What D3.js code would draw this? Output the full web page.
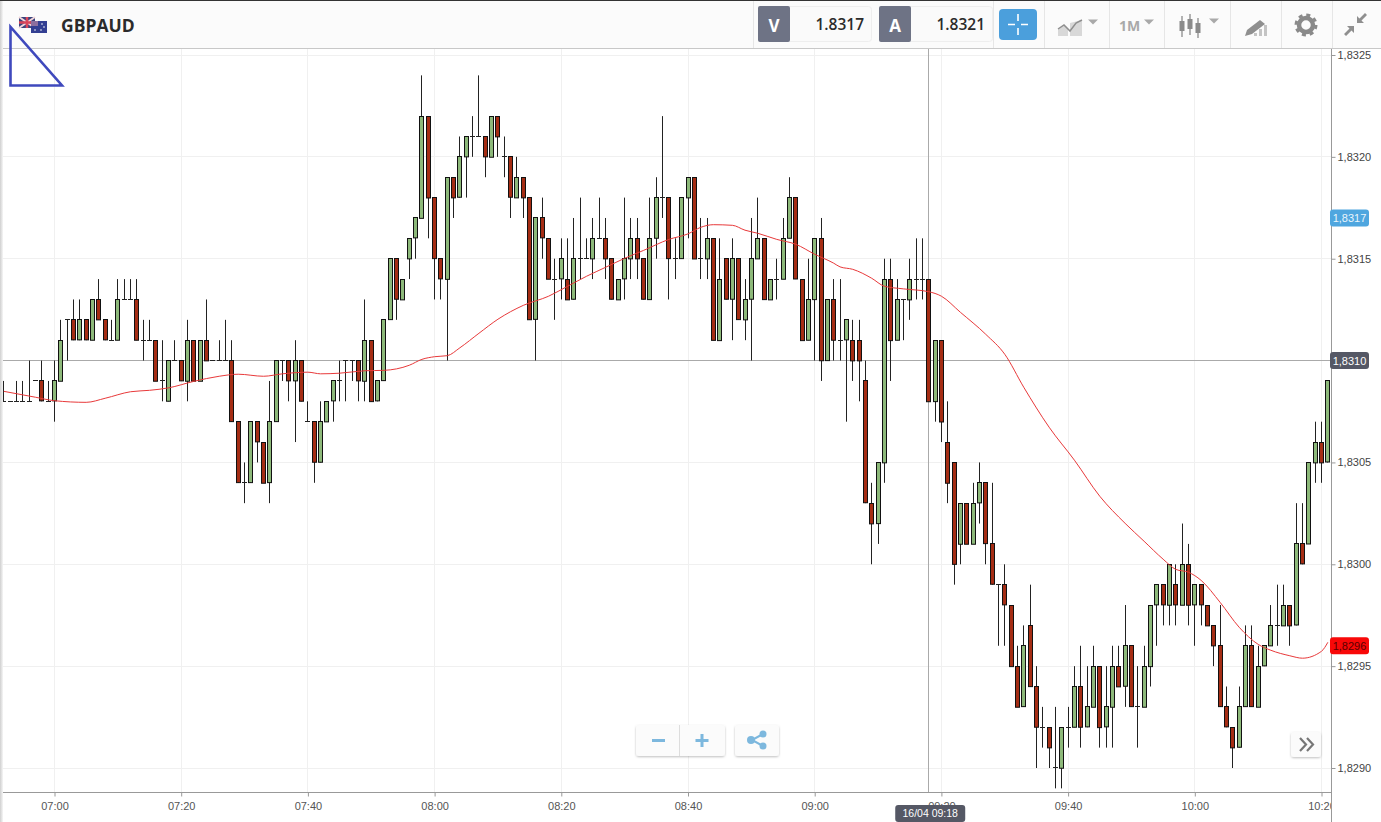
<!DOCTYPE html>
<html>
<head>
<meta charset="utf-8">
<title>GBPAUD</title>
<script src="https://cdnjs.cloudflare.com/ajax/libs/d3/7.8.5/d3.min.js"></script>
<style>
  html, body { margin: 0; padding: 0; background: #fff; overflow: hidden; }
  svg { display: block; }
  text { font-family: "Liberation Sans", Arial, sans-serif; }
  .head { font-family: "Open Sans", sans-serif; }
</style>
</head>
<body>
<svg id="chart"></svg>
<script>
// One candle per minute, starting at 06:52. Prices are pips above 1.8300
const firstCandle = "06:52";
const opens = [
  8,8,8,8,8,9,9,8,8,9, 12,12,11,12,11,13,12,11,11,13,
  13,13,11,11,11,9,8,10,10,9, 11,9,11,10,10,10,10,7,4,4,
  7,6,4,7,10,10,9,10,7,7, 5,7,8,9,10,10,10,9,11,8,
  9,12,15,13,15,16,17,22,18,15, 14,19,18,20,21,21,21,20,22,20,
  20,18,19,18,12,17,16,14,14,14, 13,15,15,15,16,16,15,13,14,15,
  16,15,13,16,18,18,15,15,18,19, 15,15,16,11,15,13,15,12,13,15,
  16,13,14,14,16,18,14,11,13,16, 10,13,11,11,11,11,9,3,2,5,
  14,11,13,13,14,14,14,8,11,6, 5,1,3,1,3,4,1,-1,-1,-2,
  -5,-7,-3,-6,-8,-8,-10,-10,-8,-8, -6,-8,-7,-5,-8,-7,-5,-6,-4,-7,
  -7,-5,-2,-1,-2,-1,-2,0,-2,-1, -2,-3,-4,-7,-8,-9,-7,-4,-7,-5,
  -4,-3,-3,-2,-3,1,1,5,6,5
];
const highs = [
  9,8,9,9,10,9,10,9,10,12, 12,13,13,12,13,14,12,12,14,14,
  14,14,12,12,11,11,10,11,10,12, 11,11,13,10,11,12,11,7,5,7,
  7,6,9,10,10,10,11,10,8,7, 8,8,9,10,10,10,10,13,11,9,
  12,15,15,14,16,17,24,22,18,15, 19,19,21,21,22,24,21,22,22,21,
  20,20,19,18,17,18,16,15,16,16, 17,18,16,17,18,17,15,14,18,17,
  17,15,18,19,22,18,16,18,19,19, 17,17,16,16,15,16,15,14,17,18,
  16,14,15,17,19,18,14,15,16,17, 13,14,14,12,12,12,10,4,5,15,
  15,14,13,15,16,16,14,11,11,8, 5,3,3,4,5,4,4,-1,0,-2,
  -4,-3,-1,-5,-7,-8,-7,-8,-7,-5, -4,-5,-4,-5,-5,-4,-4,-2,-4,-5,
  -4,-2,-1,-1,0,0,2,1,-1,-1, -2,-3,-2,-6,-8,-6,-3,-3,-4,-4,
  -2,-1,-1,-2,3,3,5,7,7,9
];
const lows = [
  8,8,8,8,8,9,8,8,7,9, 10,11,11,11,11,12,11,11,11,13,
  13,11,10,11,9,8,8,10,9,8, 9,9,10,10,10,10,7,4,3,4,
  5,4,3,7,9,8,6,8,7,4, 5,7,7,8,8,9,8,8,8,8,
  9,12,12,13,14,15,17,16,13,13, 10,17,18,18,20,21,19,20,20,19,
  17,18,17,12,10,15,14,12,13,13, 13,14,15,14,16,14,13,13,13,14,
  14,13,13,15,17,13,14,15,16,15, 14,14,11,11,13,11,12,11,10,15,
  13,13,13,14,16,14,11,11,10,9, 10,10,10,7,9,8,3,0,1,4,
  9,11,11,12,13,13,8,7,6,3, -1,0,1,1,2,0,-1,-4,-4,-5,
  -7,-7,-6,-10,-9,-10,-11,-11,-9,-8, -9,-8,-7,-9,-9,-9,-6,-7,-7,-9,
  -7,-6,-4,-3,-3,-3,-2,-3,-4,-3, -3,-5,-7,-8,-10,-9,-7,-7,-7,-5,
  -4,-4,-3,-4,-3,0,1,4,4,5
];
const closes = [
  8,8,8,8,8,9,8,8,9,11, 12,11,12,11,13,12,11,11,13,13,
  13,11,11,11,9,9,10,10,9,11, 9,11,10,10,10,10,7,4,4,7,
  6,4,7,10,10,9,10,8,7,5, 7,8,9,9,10,10,9,11,8,9,
  12,15,13,14,16,17,22,18,15,14, 19,18,20,21,21,21,20,22,21,20,
  18,19,18,12,17,16,14,14,15,13, 15,15,15,16,16,15,13,14,15,16,
  15,13,16,18,18,15,15,18,19,15, 15,16,11,14,13,15,12,13,15,16,
  13,14,14,16,18,14,11,13,16,10, 13,11,11,12,10,10,3,2,5,14,
  11,13,13,14,14,14,8,11,7,4, 0,3,1,3,4,1,-1,-1,-2,-5,
  -7,-4,-6,-8,-8,-9,-10,-8,-8,-6, -8,-7,-5,-8,-7,-5,-6,-4,-7,-7,
  -5,-2,-1,-2,0,-2,0,-2,-1,-2, -3,-4,-7,-8,-9,-7,-4,-7,-5,-4,
  -3,-3,-2,-3,1,0,5,6,5,9
];

const maIndex = [
  0,5,8,13,16,20,23,26,30,34, 37,41,44,48,50,53,57,60,64,66,
  68,70,72,75,78,82,86,89,92,95, 98,101,105,108,110,112,115,117,119,122,
  125,128,131,132,134,137,139,142,146,148, 151,155,158,161,165,169,173,177,180,183,
  185,187,189,192,195,198,200,203,205,208,209
];
const maValues = [
  8.49,8.2,8.03,7.95,8.15,8.47,8.54,8.66,8.98,9.23, 9.33,9.23,9.35,9.43,9.35,9.38,9.5,9.52,9.77,10.06,
  10.19,10.24,10.63,11.34,12.03,12.71,13.16,13.65,14.14,14.58, 15.02,15.41,15.95,16.22,16.54,16.67,16.64,16.4,16.25,15.95,
  15.71,15.22,14.78,14.6,14.48,14.04,13.65,13.52,13.38,13.16, 12.37,11.29,10.31,8.69,6.73,5.11,3.34,2.01,1.13,0.25,
  -0.25,-0.39,-0.79,-1.87,-3.09,-3.93,-4.22,-4.49,-4.61,-4.27,-3.83
];

const priceTicks = [1.8290, 1.8295, 1.8300, 1.8305, 1.8310, 1.8315, 1.8320, 1.8325];
const timeTicks = ["07:00","07:20","07:40","08:00","08:20","08:40","09:00","09:20","09:40","10:00","10:20"];

const symbol = "GBPAUD";
const bidText = "1.8317";
const askText = "1.8321";
const bidPrice = 1.8317;
const crossPrice = 1.8310;
const lastPrice = 1.8296;
const crossTime = "09:18";
const crossDate = "16/04";

const width = 1381, height = 822;
const plot = { left: 3, right: 1331, top: 48, bottom: 792 };
const upColor = "#8db97a", downColor = "#a52d14", wickColor = "#222";

const svg = d3.select("#chart").attr("width", width).attr("height", height);

const parseTime = d3.timeParse("%H:%M");
const toPrice = p => 1.83 + p / 10000;
const priceText = p => p.toFixed(4).replace(".", ",");
const timeAt = i => d3.timeMinute.offset(parseTime(firstCandle), i);

// Scales
const x = d3.scaleTime()
  .domain([parseTime("07:00"), parseTime("10:20")])
  .range([54.5, 1321.5]);
const y = d3.scaleLinear()
  .domain([1.8290, 1.8325])
  .range([768, 55]);

svg.append("rect").attr("width", width).attr("height", height).attr("fill", "#fff");

// Grid
const sharp = v => Math.round(v - 0.5) + 0.5;
svg.append("g").selectAll("line").data(timeTicks).enter().append("line")
  .attr("x1", d => sharp(x(parseTime(d)))).attr("x2", d => sharp(x(parseTime(d))))
  .attr("y1", plot.top).attr("y2", plot.bottom)
  .attr("stroke", "#f0f0f0");
svg.append("g").selectAll("line").data(priceTicks).enter().append("line")
  .attr("x1", plot.left).attr("x2", plot.right)
  .attr("y1", d => sharp(y(d))).attr("y2", d => sharp(y(d)))
  .attr("stroke", "#f0f0f0");

// Crosshair sits under the candles
svg.append("line")
  .attr("x1", 0).attr("x2", plot.right)
  .attr("y1", sharp(y(crossPrice))).attr("y2", sharp(y(crossPrice)))
  .attr("stroke", "#aaa");
svg.append("line")
  .attr("x1", sharp(x(parseTime(crossTime)))).attr("x2", sharp(x(parseTime(crossTime))))
  .attr("y1", plot.top).attr("y2", plot.bottom)
  .attr("stroke", "#aaa");

// Candles
const candles = opens.map((o, i) => ({ i: i, o: o, h: highs[i], l: lows[i], c: closes[i] }));
const cx = d => sharp(x(timeAt(d.i)));
const candle = svg.append("g").selectAll("g").data(candles).enter().append("g");

candle.append("line")
  .attr("x1", cx).attr("x2", cx)
  .attr("y1", d => y(toPrice(d.h))).attr("y2", d => y(toPrice(d.l)))
  .attr("stroke", wickColor);

candle.filter(d => d.o === d.c).append("line")
  .attr("x1", d => cx(d) - 2.5).attr("x2", d => cx(d) + 2.5)
  .attr("y1", d => sharp(y(toPrice(d.o)))).attr("y2", d => sharp(y(toPrice(d.o))))
  .attr("stroke", wickColor);

candle.filter(d => d.o !== d.c).append("rect")
  .attr("x", d => cx(d) - 2)
  .attr("y", d => sharp(y(toPrice(Math.max(d.o, d.c)))))
  .attr("width", 4)
  .attr("height", d => Math.abs(y(toPrice(d.o)) - y(toPrice(d.c))))
  .attr("fill", d => d.c > d.o ? upColor : downColor)
  .attr("stroke", "#111");

// Moving average
const maLine = d3.line()
  .x(d => x(timeAt(d[0])))
  .y(d => y(toPrice(d[1])))
  .curve(d3.curveMonotoneX);
svg.append("path")
  .datum(maIndex.map((m, i) => [m, maValues[i]]))
  .attr("d", maLine)
  .attr("fill", "none")
  .attr("stroke", "#e8393a")
  .attr("stroke-width", 1);

// Axes
const xAxis = svg.append("g")
  .attr("transform", `translate(0,${plot.bottom + 0.5})`)
  .call(d3.axisBottom(x).tickValues(timeTicks.map(parseTime)).tickFormat(d3.timeFormat("%H:%M")).tickSize(4).tickPadding(6));
xAxis.select(".domain").attr("d", `M0,0H${plot.right}`).attr("stroke", "#999");
xAxis.selectAll("line").attr("stroke", "#999");
xAxis.selectAll("text").attr("font-size", 11).attr("fill", "#555")
  .attr("font-family", "Liberation Sans");
svg.append("rect").attr("x", plot.right).attr("y", plot.bottom + 1).attr("width", 50).attr("height", 30).attr("fill", "#fff");

// the crosshair tag stands in for the 1,8310 label
const yAxis = svg.append("g")
  .attr("transform", `translate(${plot.right + 0.5},0)`)
  .call(d3.axisRight(y).tickValues(priceTicks).tickFormat(d => d === crossPrice ? "" : priceText(d)).tickSize(4).tickPadding(2));
yAxis.select(".domain").attr("d", `M0,${plot.top}V${height}`).attr("stroke", "#999");
yAxis.selectAll("line").attr("stroke", "#999");
yAxis.selectAll("text").attr("font-size", 11).attr("fill", "#444")
  .attr("font-family", "Liberation Sans");

// Price tags on the right axis
function priceTag(price, fill, color) {
  const tag = svg.append("g").attr("transform", `translate(${plot.right},${y(price)})`);
  tag.append("rect").attr("x", -1).attr("y", -8.5).attr("width", 39).attr("height", 17).attr("rx", 3).attr("fill", fill);
  tag.append("text").attr("x", 18.5).attr("y", 4).attr("text-anchor", "middle")
    .attr("font-size", 11).attr("fill", color).text(priceText(price));
}
priceTag(bidPrice, "#4fa6df", "#eaf5fc");
priceTag(crossPrice, "#555865", "#fff");
priceTag(lastPrice, "#f80808", "#5a0000");

// Time tag under the crosshair
const timeTag = svg.append("g").attr("transform", `translate(${x(parseTime(crossTime))},0)`);
timeTag.append("rect").attr("x", -33.5).attr("y", 805).attr("width", 70).attr("height", 17).attr("rx", 3).attr("fill", "#555865");
timeTag.append("text").attr("x", 1.5).attr("y", 817).attr("text-anchor", "middle")
  .attr("font-size", 10.5).attr("fill", "#fff").text(`${crossDate} ${crossTime}`);

// Header bar
const head = svg.append("g");
head.append("rect").attr("width", width).attr("height", 48).attr("fill", "#fbfbfb");
head.append("rect").attr("width", width).attr("height", 1).attr("fill", "#333");
head.append("line").attr("x1", 0).attr("x2", width).attr("y1", 48.5).attr("y2", 48.5).attr("stroke", "#c8c8c8");
[753, 993, 1044, 1109, 1164, 1230, 1281, 1332].forEach(v => {
  head.append("line").attr("x1", v + 0.5).attr("x2", v + 0.5).attr("y1", 1).attr("y2", 48).attr("stroke", "#e6e6e6");
});

// Left edge shadow
const edge = svg.append("defs").append("linearGradient").attr("id", "edge");
edge.append("stop").attr("offset", 0).attr("stop-color", "#cfcfcf");
edge.append("stop").attr("offset", 1).attr("stop-color", "#f6f6f6");
svg.append("rect").attr("y", 1).attr("width", 3).attr("height", height).attr("fill", "url(#edge)");

// Flags
const gb = head.append("g").attr("transform", "translate(19,17)");
gb.append("rect").attr("width", 16).attr("height", 11).attr("fill", "#39447e");
gb.append("path").attr("d", "M0,0L16,11M16,0L0,11").attr("stroke", "#f2d6da").attr("stroke-width", 2);
gb.append("path").attr("d", "M8,0V11M0,5.5H16").attr("stroke", "#d8455a").attr("stroke-width", 2.5);
const au = head.append("g").attr("transform", "translate(31,21)");
au.append("rect").attr("width", 16).attr("height", 12).attr("fill", "#333f92");
au.append("path").attr("d", "M0,0H7V5H0Z").attr("fill", "#8c6f9e");
[[11, 3], [13, 6], [10, 9], [4, 9]].forEach(p => {
  au.append("circle").attr("cx", p[0]).attr("cy", p[1]).attr("r", 0.8).attr("fill", "#fff");
});

head.append("text").attr("class", "head").attr("x", 61).attr("y", 32)
  .attr("font-size", 17.5).attr("font-weight", 700).attr("fill", "#2b2b2b").text(symbol);

// Bid and ask boxes
function quote(left, letter, value) {
  head.append("rect").attr("x", left + 0.5).attr("y", 6.5).attr("width", 113).attr("height", 35).attr("rx", 3)
    .attr("fill", "#fafafa").attr("stroke", "#eee");
  head.append("rect").attr("x", left).attr("y", 6).attr("width", 32).attr("height", 36).attr("rx", 2).attr("fill", "#6e7385");
  head.append("text").attr("class", "head").attr("x", left + 16).attr("y", 32).attr("text-anchor", "middle")
    .attr("font-size", 17).attr("font-weight", 700).attr("fill", "#fff").text(letter);
  head.append("text").attr("class", "head").attr("x", left + 106).attr("y", 30).attr("text-anchor", "end")
    .attr("font-size", 15.5).attr("font-weight", 600).attr("fill", "#2b2b2b").text(value);
}
quote(758, "V", bidText);
quote(879, "A", askText);

// Crosshair button
head.append("rect").attr("x", 999).attr("y", 9).attr("width", 38).attr("height", 31).attr("rx", 4).attr("fill", "#4b9fdc");
head.append("path").attr("d", "M1008,24.5H1015M1021,24.5H1028M1018,14V21M1018,28V35")
  .attr("stroke", "#fff").attr("stroke-width", 1.6);

// Toolbar icons
const iconGrey = "#a9a9a9";
const caret = (cx0, cy0) => head.append("path")
  .attr("d", `M${cx0 - 5},${cy0 - 2.5}H${cx0 + 5}L${cx0},${cy0 + 2.5}Z`).attr("fill", iconGrey);
head.append("path").attr("d", "M1058,36V29L1064,25L1068,29V36ZM1070,36V23L1082,20V36Z").attr("fill", "#d8d8d8");
head.append("path").attr("d", "M1058,29L1064,25L1070,31L1076,23L1082,20").attr("fill", "none").attr("stroke", "#8f8f8f").attr("stroke-width", 1.5);
caret(1093, 22);
head.append("text").attr("class", "head").attr("x", 1119).attr("y", 31).attr("font-size", 14).attr("font-weight", 700).attr("fill", iconGrey).text("1M");
caret(1149, 22);
[[1182, 21, 31, 16, 37], [1190, 19, 29, 14, 35], [1198, 23, 33, 18, 38]].forEach(c => {
  head.append("line").attr("x1", c[0]).attr("x2", c[0]).attr("y1", c[3]).attr("y2", c[4]).attr("stroke", "#8a8a8a").attr("stroke-width", 1.3);
  head.append("rect").attr("x", c[0] - 2.5).attr("y", c[1]).attr("width", 5).attr("height", c[2] - c[1]).attr("fill", "#8a8a8a");
});
caret(1214, 21);
head.append("path").attr("d", "M1254,36V33H1257V36ZM1259,36V29H1262V36ZM1264,36V25H1267V36Z").attr("fill", "#c4c4c4");
head.append("path").attr("d", "M1245,36L1247,30L1260,20L1265,24L1252,34Z").attr("fill", "#8f8f8f");
head.append("circle").attr("cx", 1306).attr("cy", 25).attr("r", 7).attr("fill", "none").attr("stroke", "#8a8a8a").attr("stroke-width", 4.5);
head.append("circle").attr("cx", 1306).attr("cy", 25).attr("r", 10).attr("fill", "none").attr("stroke", "#8a8a8a").attr("stroke-width", 3).attr("stroke-dasharray", "4 3.85");
head.append("path").attr("d", "M1357,23V16L1359.5,18.5L1365,13L1367,15L1361.5,20.5L1364,23Z").attr("fill", "#8f8f8f");
head.append("path").attr("d", "M1354,26V33L1351.5,30.5L1346,36L1344,34L1349.5,28.5L1347,26Z").attr("fill", "#8f8f8f");

// Hand drawn triangle
svg.append("path").attr("d", "M10.5,27V85.5H62L10.5,27Z")
  .attr("fill", "none").attr("stroke", "#3f49bd").attr("stroke-width", 2.6);

// Zoom and share buttons
const btnShadow = svg.append("defs").append("filter").attr("id", "btn").attr("x", "-10%").attr("y", "-10%").attr("width", "120%").attr("height", "130%");
btnShadow.append("feDropShadow").attr("dx", 0).attr("dy", 1).attr("stdDeviation", 1).attr("flood-color", "#000").attr("flood-opacity", 0.25);
function button(left, top, w, h) {
  svg.append("rect").attr("x", left).attr("y", top).attr("width", w).attr("height", h).attr("rx", 3)
    .attr("fill", "#fbfbfb").attr("filter", "url(#btn)");
}
const btnBlue = "#7db8de";
button(636, 725, 89, 31);
svg.append("line").attr("x1", 679.5).attr("x2", 679.5).attr("y1", 725).attr("y2", 756).attr("stroke", "#ddd");
svg.append("path").attr("d", "M652,740.5H665M702,734V747M695.5,740.5H708.5").attr("stroke", btnBlue).attr("stroke-width", 3);
button(735, 725, 44, 31);
svg.append("path").attr("d", "M763,734L752,740L763,746").attr("fill", "none").attr("stroke", btnBlue).attr("stroke-width", 2);
[[763, 734, 3.5], [751, 740, 4], [763, 746, 3.5]].forEach(c => {
  svg.append("circle").attr("cx", c[0]).attr("cy", c[1]).attr("r", c[2]).attr("fill", btnBlue);
});
button(1291, 732, 30, 25);
svg.append("path").attr("d", "M1300,738L1306,744.5L1300,751M1307,738L1313,744.5L1307,751")
  .attr("fill", "none").attr("stroke", "#777").attr("stroke-width", 2.2);
</script>
</body>
</html>
